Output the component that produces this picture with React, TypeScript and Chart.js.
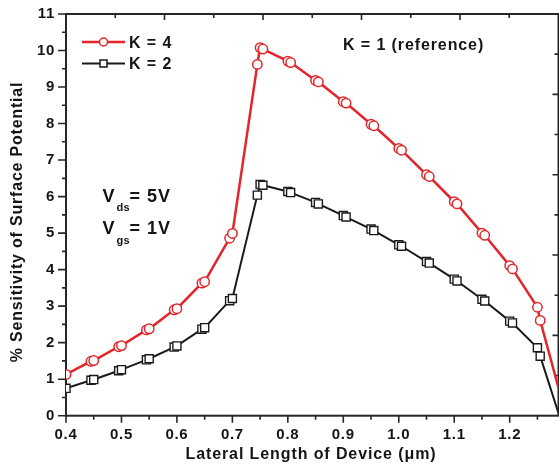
import React, { useEffect, useRef } from "react";
import { Chart, registerables } from "chart.js";

Chart.register(...registerables);

// ---- data ----
const k4X = [0.4, 0.445, 0.45, 0.495, 0.5, 0.545, 0.55, 0.595, 0.6, 0.645, 0.65, 0.695, 0.7, 0.745, 0.75, 0.755, 0.8, 0.805, 0.85, 0.855, 0.9, 0.905, 0.95, 0.955, 1.0, 1.005, 1.05, 1.055, 1.1, 1.105, 1.15, 1.155, 1.2, 1.205, 1.25, 1.255, 1.288];
const k4Y = [1.13, 1.49, 1.51, 1.89, 1.92, 2.35, 2.38, 2.9, 2.93, 3.63, 3.67, 4.86, 4.99, 9.62, 10.08, 10.04, 9.71, 9.67, 9.18, 9.14, 8.6, 8.56, 7.98, 7.94, 7.32, 7.27, 6.6, 6.55, 5.86, 5.8, 5.0, 4.94, 4.11, 4.02, 2.97, 2.61, 0.76];
const k2X = [0.4, 0.445, 0.45, 0.495, 0.5, 0.545, 0.55, 0.595, 0.6, 0.645, 0.65, 0.695, 0.7, 0.745, 0.75, 0.755, 0.8, 0.805, 0.85, 0.855, 0.9, 0.905, 0.95, 0.955, 1.0, 1.005, 1.05, 1.055, 1.1, 1.105, 1.15, 1.155, 1.2, 1.205, 1.25, 1.255, 1.288];
const k2Y = [0.75, 0.97, 0.99, 1.23, 1.26, 1.53, 1.56, 1.88, 1.91, 2.37, 2.41, 3.15, 3.21, 6.04, 6.33, 6.31, 6.14, 6.11, 5.84, 5.8, 5.48, 5.44, 5.11, 5.07, 4.68, 4.64, 4.22, 4.18, 3.74, 3.69, 3.19, 3.14, 2.59, 2.54, 1.86, 1.63, 0.07];

const xMajorTicks = [0.4, 0.5, 0.6, 0.7, 0.8, 0.9, 1.0, 1.1, 1.2];
const xMinorTicks = [0.45, 0.55, 0.65, 0.75, 0.85, 0.95, 1.05, 1.15, 1.25];
const yMajorTicks = [0, 1, 2, 3, 4, 5, 6, 7, 8, 9, 10, 11];
const yMinorTicks = [0.5, 1.5, 2.5, 3.5, 4.5, 5.5, 6.5, 7.5, 8.5, 9.5, 10.5];

const seriesLabels = ["K = 4", "K = 2"];
const xTitle = "Lateral Length of Device (\u03bcm)";
const yTitle = "% Sensitivity of Surface Potential";
const noteRef = "K = 1 (reference)";

const RED = "#e2262b";
const BLACK = "#1a1a1a";
const AXIS = "#262626";
const TEXT = "#151515";
const FONT = "'Liberation Sans', Arial, sans-serif";

const decoPlugin = {
  id: "deco",
  beforeDraw(chart: any) {
    (chart.ctx as any).letterSpacing = "0.7px";
  },
  beforeDatasetsDraw(chart: any) {
    const { ctx, chartArea: a, scales } = chart;
    const xs = scales.x;
    const ys = scales.y;
    ctx.save();
    ctx.strokeStyle = AXIS;
    ctx.lineWidth = 2;
    ctx.strokeRect(a.left, a.top, a.right - a.left, a.bottom - a.top);
    ctx.lineWidth = 1.6;
    ctx.beginPath();
    for (const v of yMajorTicks) {
      const y = ys.getPixelForValue(v);
      ctx.moveTo(a.left - 8, y);
      ctx.lineTo(a.left, y);
    }
    for (const v of yMinorTicks) {
      const y = ys.getPixelForValue(v);
      ctx.moveTo(a.left - 4, y);
      ctx.lineTo(a.left, y);
    }
    for (const v of xMajorTicks) {
      const x = xs.getPixelForValue(v);
      ctx.moveTo(x, a.bottom);
      ctx.lineTo(x, a.bottom + 7);
    }
    for (const v of xMinorTicks) {
      const x = xs.getPixelForValue(v);
      ctx.moveTo(x, a.bottom);
      ctx.lineTo(x, a.bottom + 4);
    }
    for (let i = 1; i < 10; i++) {
      const len = i % 2 === 0 ? 6 : 4;
      const x = a.left + (i * (a.right - a.left)) / 10;
      ctx.moveTo(x, a.top);
      ctx.lineTo(x, a.top + len);
      const y = a.top + (i * (a.bottom - a.top)) / 10;
      ctx.moveTo(a.right, y);
      ctx.lineTo(a.right - len, y);
    }
    ctx.stroke();
    ctx.restore();
  },
  afterDraw(chart: any) {
    const { ctx } = chart;
    ctx.save();
    (ctx as any).letterSpacing = "0.9px";
    ctx.fillStyle = TEXT;
    ctx.font = `bold 16px ${FONT}`;
    ctx.textBaseline = "alphabetic";

    // x title
    ctx.textAlign = "center";
    ctx.fillText(xTitle, 311, 459);
    // y title
    ctx.save();
    ctx.translate(22, 222);
    ctx.rotate(-Math.PI / 2);
    (ctx as any).letterSpacing = "0.8px";
    ctx.fillText(yTitle, 0, 0);
    ctx.restore();

    // reference note
    ctx.textAlign = "left";
    ctx.fillText(noteRef, 343, 50);

    // legend
    const legendRows = [
      { y: 42, color: RED, style: "circle", label: seriesLabels[0] },
      { y: 63.5, color: BLACK, style: "rect", label: seriesLabels[1] },
    ];
    for (const r of legendRows) {
      ctx.strokeStyle = r.color;
      ctx.lineWidth = r.style === "circle" ? 2.5 : 2;
      ctx.beginPath();
      ctx.moveTo(82, r.y);
      ctx.lineTo(125, r.y);
      ctx.stroke();
      ctx.fillStyle = "#fff";
      ctx.lineWidth = 1.5;
      ctx.beginPath();
      if (r.style === "circle") {
        ctx.arc(103.5, r.y, 4, 0, Math.PI * 2);
      } else {
        ctx.rect(100, r.y - 3.5, 7, 7);
      }
      ctx.fill();
      ctx.stroke();
      ctx.fillStyle = TEXT;
      ctx.fillText(r.label, 129, r.y + 5.5);
    }

    // bias annotations
    const bias = [
      { sub: "ds", rest: "= 5V", base: 201.5 },
      { sub: "gs", rest: "= 1V", base: 234 },
    ];
    for (const b of bias) {
      ctx.font = `bold 18px ${FONT}`;
      (ctx as any).letterSpacing = "0px";
      ctx.fillText("V", 102.5, b.base);
      ctx.font = `bold 11px ${FONT}`;
      (ctx as any).letterSpacing = "0.4px";
      ctx.fillText(b.sub, 116.5, b.base + 9.5);
      ctx.font = `bold 18px ${FONT}`;
      (ctx as any).letterSpacing = "1px";
      ctx.fillText(b.rest, 129.5, b.base);
    }
    ctx.restore();
    (ctx as any).letterSpacing = "0px";
  },
};

function pts(xs: number[], ys: number[]) {
  return xs.map((x, i) => ({ x, y: ys[i] }));
}

export default function App() {
  const ref = useRef<HTMLCanvasElement>(null);
  useEffect(() => {
    const lastK4 = k4X.length - 1;
    const lastK2 = k2X.length - 1;
    const chart = new Chart(ref.current as HTMLCanvasElement, {
      type: "line",
      data: {
        datasets: [
          {
            label: seriesLabels[1],
            data: pts(k2X, k2Y),
            borderColor: BLACK,
            borderWidth: 2,
            pointStyle: "rect",
            pointRadius: (c: any) => (c.dataIndex === lastK2 ? 0 : 5.7),
            pointBackgroundColor: "#fff",
            pointBorderColor: BLACK,
            pointBorderWidth: 1.4,
            tension: 0,
          },
          {
            label: seriesLabels[0],
            data: pts(k4X, k4Y),
            borderColor: RED,
            borderWidth: 2.5,
            pointStyle: "circle",
            pointRadius: (c: any) => (c.dataIndex === lastK4 ? 0 : 4.7),
            pointBackgroundColor: "#fff",
            pointBorderColor: RED,
            pointBorderWidth: 1.5,
            tension: 0,
          },
        ],
      },
      options: {
        responsive: false,
        maintainAspectRatio: false,
        animation: false,
        layout: { autoPadding: false, padding: { top: 14, right: 0.5, left: 0, bottom: 0 } },
        plugins: {
          legend: { display: false },
          tooltip: { enabled: false },
          title: { display: false },
        },
        scales: {
          x: {
            type: "linear",
            min: 0.4,
            max: 1.288,
            grid: { display: false, drawTicks: false },
            border: { display: false },
            afterBuildTicks: (s: any) => {
              s.ticks = xMajorTicks.map((v) => ({ value: v }));
            },
            afterFit: (s: any) => {
              s.height = 56.3;
              s.paddingLeft = 0;
              s.paddingRight = 0;
            },
            ticks: {
              autoSkip: false,
              maxRotation: 0,
              padding: 10,
              color: TEXT,
              font: { family: FONT, size: 15, weight: "bold" },
              callback: (v: any) => Number(v).toFixed(1),
            },
          },
          y: {
            type: "linear",
            min: 0,
            max: 11,
            grid: { display: false, drawTicks: false },
            border: { display: false },
            afterBuildTicks: (s: any) => {
              s.ticks = yMajorTicks.map((v) => ({ value: v }));
            },
            afterFit: (s: any) => {
              s.width = 66;
              s.paddingTop = 0;
              s.paddingBottom = 0;
            },
            ticks: {
              autoSkip: false,
              padding: 11,
              color: TEXT,
              font: { family: FONT, size: 15, weight: "bold" },
              callback: (v: any) => String(v),
            },
          },
        },
      } as any,
      plugins: [decoPlugin],
    } as any);
    return () => chart.destroy();
  }, []);
  return (
    <div style={{ position: "fixed", left: 0, top: 0, width: 559, height: 472, background: "#fff" }}>
      <canvas ref={ref} width={559} height={472} style={{ display: "block", width: 559, height: 472 }} />
    </div>
  );
}
